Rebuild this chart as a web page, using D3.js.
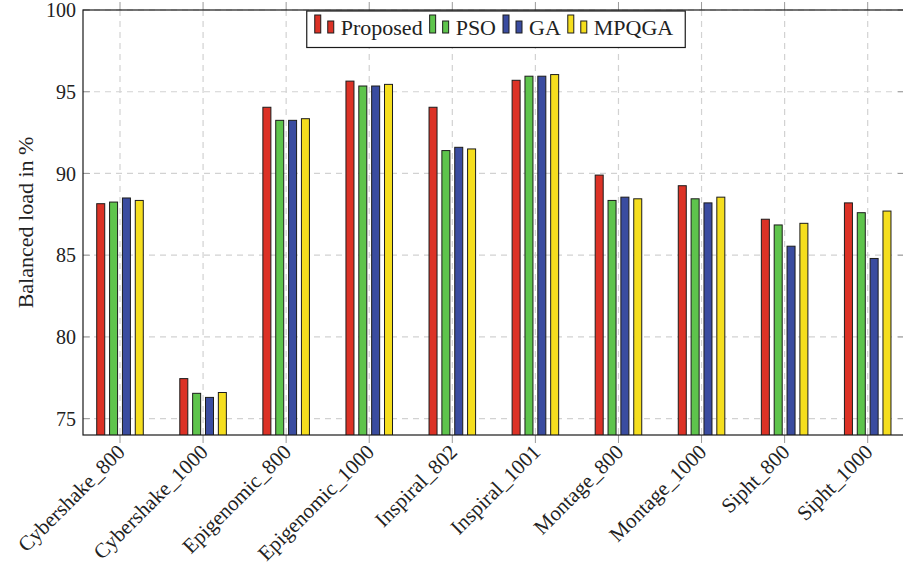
<!DOCTYPE html>
<html>
<head>
<meta charset="utf-8">
<script src="https://cdn.jsdelivr.net/npm/d3@7/dist/d3.min.js"></script>
<style>
  html, body { margin: 0; padding: 0; background: #fff; }
  svg { display: block; }
  svg text { font-family: "Liberation Serif", "DejaVu Serif", serif; }
</style>
</head>
<body>
<svg id="chart" width="903" height="570" font-family="Liberation Serif, DejaVu Serif, serif"></svg>
<script>
// Workflow benchmarks on the x axis
const categories = [
  "Cybershake_800", "Cybershake_1000", "Epigenomic_800", "Epigenomic_1000",
  "Inspiral_802", "Inspiral_1001", "Montage_800", "Montage_1000",
  "Sipht_800", "Sipht_1000"
];

// Scheduling algorithms compared
const seriesNames = ["Proposed", "PSO", "GA", "MPQGA"];
const seriesColors = ["#dc3226", "#5ec44c", "#3a4ca0", "#f5de1e"];

// Balanced load (%) per algorithm, one value per workflow
const proposed = [88.15, 77.45, 94.05, 95.65, 94.05, 95.70, 89.90, 89.25, 87.20, 88.20];
const pso      = [88.25, 76.55, 93.25, 95.35, 91.40, 95.95, 88.35, 88.45, 86.85, 87.60];
const ga       = [88.50, 76.30, 93.25, 95.35, 91.60, 95.95, 88.55, 88.20, 85.55, 84.80];
const mpqga    = [88.35, 76.60, 93.35, 95.45, 91.50, 96.05, 88.45, 88.55, 86.95, 87.70];

const yTicks = [75, 80, 85, 90, 95, 100];
const yLabel = "Balanced load in %";

const serif = "Liberation Serif, DejaVu Serif, serif";
const seriesValues = [proposed, pso, ga, mpqga];
const rows = [];
categories.forEach((c, i) => {
  seriesNames.forEach((s, j) => rows.push({ cat: c, series: s, value: seriesValues[j][i], color: seriesColors[j] }));
});

const svg = d3.select("#chart");
const frame = { left: 83, right: 905, top: 10, bottom: 435 };

const x = d3.scalePoint().domain(categories).range([120, 867.7]);
const xs = d3.scaleBand().domain(seriesNames).range([-25.7, 25.7]).paddingInner(0.377).paddingOuter(0.1885);
const y = d3.scaleLinear().domain([74, 100]).range([frame.bottom, frame.top]);

const clipId = "plot-clip";
svg.append("defs").append("clipPath").attr("id", clipId)
  .append("rect")
  .attr("x", frame.left).attr("y", frame.top)
  .attr("width", frame.right - frame.left).attr("height", frame.bottom - frame.top);

// Dashed grid
const grid = svg.append("g").attr("stroke", "#d2d2d2").attr("stroke-width", 1.2).attr("stroke-dasharray", "6,5");
grid.selectAll("line.h").data(yTicks).join("line")
  .attr("x1", frame.left).attr("x2", frame.right)
  .attr("y1", d => y(d)).attr("y2", d => y(d));
grid.selectAll("line.v").data(categories).join("line")
  .attr("x1", d => x(d)).attr("x2", d => x(d))
  .attr("y1", frame.top).attr("y2", frame.bottom);

// Bars
svg.append("g").attr("clip-path", `url(#${clipId})`)
  .selectAll("rect").data(rows).join("rect")
  .attr("x", d => x(d.cat) + xs(d.series))
  .attr("width", xs.bandwidth())
  .attr("y", d => y(d.value))
  .attr("height", d => y.range()[0] - y(d.value) + 2)
  .attr("fill", d => d.color)
  .attr("stroke", "#1c1c1c")
  .attr("stroke-width", 1);

// Tick marks
const ticks = svg.append("g").attr("stroke", "#9a9a9a").attr("stroke-width", 1);
ticks.selectAll("line.xb").data(categories).join("line")
  .attr("x1", d => x(d)).attr("x2", d => x(d))
  .attr("y1", frame.bottom).attr("y2", frame.bottom + 8);
ticks.selectAll("line.xt").data(categories).join("line")
  .attr("x1", d => x(d)).attr("x2", d => x(d))
  .attr("y1", frame.top).attr("y2", frame.top - 8);
ticks.selectAll("line.yl").data(yTicks).join("line")
  .attr("x1", frame.left).attr("x2", frame.left + 7)
  .attr("y1", d => y(d)).attr("y2", d => y(d));
ticks.selectAll("line.yr").data(yTicks).join("line")
  .attr("x1", frame.right - 7).attr("x2", frame.right)
  .attr("y1", d => y(d)).attr("y2", d => y(d));

// Axis frame
svg.append("rect")
  .attr("x", frame.left).attr("y", frame.top)
  .attr("width", frame.right - frame.left).attr("height", frame.bottom - frame.top)
  .attr("fill", "none").attr("stroke", "#1a1a1a").attr("stroke-width", 1.2);

// Y tick labels
svg.append("g").selectAll("text").data(yTicks).join("text")
  .attr("font-family", serif)
  .attr("x", frame.left - 7).attr("y", d => y(d)).attr("dy", "0.36em")
  .attr("text-anchor", "end").attr("font-size", 20).attr("fill", "#222")
  .text(d => d);

// Rotated category labels
svg.append("g").selectAll("text").data(categories).join("text")
  .attr("font-family", serif)
  .attr("transform", d => `translate(${x(d) + 1},${frame.bottom + 13}) rotate(-45)`)
  .attr("text-anchor", "end").attr("dy", "0.35em")
  .attr("font-size", 21).attr("fill", "#222")
  .text(d => d);

// Y axis title
svg.append("text")
  .attr("font-family", serif)
  .attr("transform", `translate(33,${(frame.top + frame.bottom) / 2}) rotate(-90)`)
  .attr("text-anchor", "middle").attr("font-size", 22).attr("fill", "#222")
  .text(yLabel);

// Legend
const legend = svg.append("g");
const legendItems = legend.selectAll("g").data(seriesNames.map((s, i) => ({ name: s, color: seriesColors[i] }))).join("g");
legendItems.append("rect").attr("x", 0).attr("y", 15).attr("width", 6).attr("height", 18)
  .attr("fill", d => d.color).attr("stroke", "#1c1c1c").attr("stroke-width", 1);
legendItems.append("rect").attr("x", 13).attr("y", 21).attr("width", 6).attr("height", 12)
  .attr("fill", d => d.color).attr("stroke", "#1c1c1c").attr("stroke-width", 1);
legendItems.append("text").attr("x", 26).attr("y", 35)
  .attr("font-family", serif)
  .attr("font-size", 22).attr("fill", "#222").text(d => d.name);

let cursor = 0;
legendItems.each(function () {
  const w = d3.select(this).select("text").node().getComputedTextLength();
  d3.select(this).attr("data-x", cursor);
  cursor += 26 + w + 7;
});
const legendWidth = cursor - 7;
const legendCenter = 494;
const legendStart = legendCenter - legendWidth / 2;
legendItems.attr("transform", function () { return `translate(${legendStart + (+this.getAttribute("data-x"))},0)`; });
legend.insert("rect", ":first-child")
  .attr("x", legendStart - 8).attr("y", 11)
  .attr("width", legendWidth + 20).attr("height", 36.5)
  .attr("fill", "#fff").attr("stroke", "#1a1a1a").attr("stroke-width", 1.2);
</script>
</body>
</html>
